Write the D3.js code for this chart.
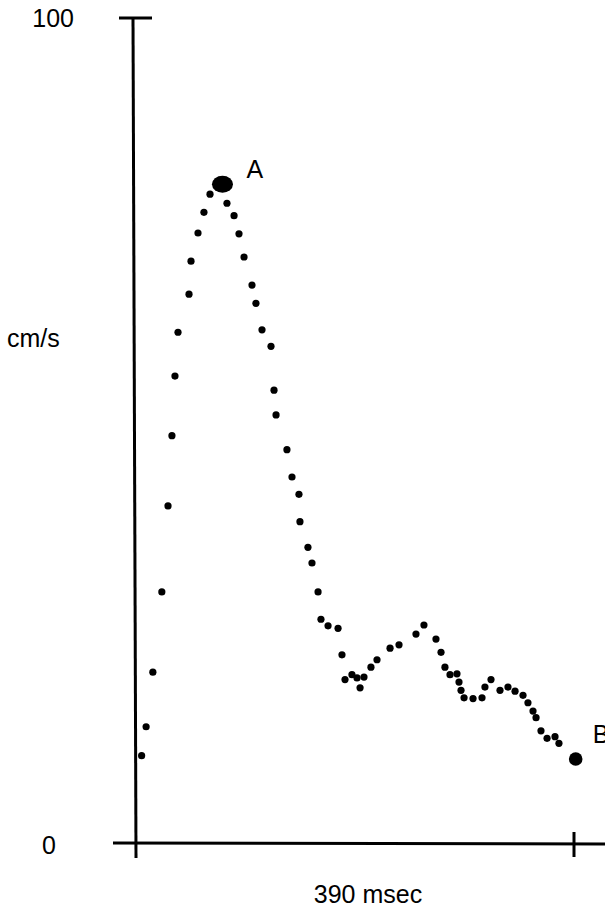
<!DOCTYPE html>
<html>
<head>
<meta charset="utf-8">
<script src="https://cdn.jsdelivr.net/npm/d3@7"></script>
<style>
  body { margin: 0; background: #fff; }
  text { font-family: "Liberation Sans", Arial, sans-serif; fill: #000; }
</style>
</head>
<body>
<div id="chart"></div>
<script>
// time (msec) and velocity (cm/s)
const times = [5, 9, 15, 23, 28.5, 32, 34.7, 37.4, 47.2, 49, 55.2, 60.5, 65.9, 77,
  81, 87.3, 91.7, 96.2, 103.3, 106.8, 112.2, 120.2, 122.9, 124.7, 134.4, 138.9, 145.1, 146,
  153.1, 156.7, 162.1, 164.7, 171, 179.9, 183.4, 186.1, 192.3, 196.8, 199.5, 203, 209.2, 214.6,
  226.2, 234.2, 249.3, 256.4, 267.1, 271.6, 275.1, 279.6, 285.8, 287.6, 289.4, 292.1, 300.1, 308.1,
  310.7, 316.1, 324.1, 331.2, 337.5, 344.6, 349, 353.5, 356.2, 360.6, 366, 373.1, 376.6, 391.5];
const speeds = [10.8, 14.3, 20.9, 30.6, 41, 49.5, 56.7, 62, 66.6, 70.6, 74, 76.5, 78.7, 79.9,
  77.6, 76.1, 73.9, 71.1, 67.7, 65.5, 62.3, 60.3, 55, 52, 47.8, 44.5, 42.4, 39.1,
  36, 34.1, 30.6, 27.3, 26.5, 26.2, 23, 20, 20.6, 20.2, 19, 20.3, 21.5, 22.4,
  23.8, 24.2, 25.5, 26.6, 24.9, 23.3, 21.5, 20.6, 20.7, 19.7, 18.7, 17.8, 17.7, 17.8,
  19.1, 20, 18.7, 19.1, 18.6, 18.1, 17.2, 16.2, 15.4, 13.8, 12.9, 13.1, 12.3, 10.4];
const marked = [{label: "A", i: 13}, {label: "B", i: 69}];
const yTicks = [0, 100];
const xEnd = 390;

const width = 605, height = 909;
const x = d3.scaleLinear([0, xEnd], [136, 574]);
const y = d3.scaleLinear([0, 100], [845, 18]);

const svg = d3.select("#chart").append("svg")
    .attr("width", width)
    .attr("height", height);

const axes = svg.append("g")
    .attr("stroke", "#000")
    .attr("stroke-width", 3)
    .attr("fill", "none");

// vertical axis, leaning a little like the drawn one
axes.append("line")
    .attr("x1", x(0) - 3).attr("x2", x(0))
    .attr("y1", y(100)).attr("y2", y(0) + 13);
// top tick
axes.append("line")
    .attr("x1", x(0) - 17).attr("x2", x(0) + 16)
    .attr("y1", y(100)).attr("y2", y(100));
// baseline
axes.append("line")
    .attr("x1", x(0) - 23).attr("x2", width)
    .attr("y1", y(0) - 2).attr("y2", y(0) - 1);
// end tick
axes.append("line")
    .attr("x1", x(xEnd)).attr("x2", x(xEnd))
    .attr("y1", y(0) - 13).attr("y2", y(0) + 12);

svg.append("g")
    .attr("font-size", 25)
    .attr("text-anchor", "end")
    .selectAll("text")
    .data(yTicks)
    .join("text")
    .attr("x", d => d === 0 ? 56 : 74)
    .attr("y", d => y(d))
    .attr("dy", "0.35em")
    .text(d => d);

svg.append("text")
    .attr("x", 7)
    .attr("y", 347)
    .attr("font-size", 25)
    .text("cm/s");

svg.append("text")
    .attr("x", 368)
    .attr("y", 903)
    .attr("text-anchor", "middle")
    .attr("font-size", 25)
    .text(`${xEnd} msec`);

const pts = times.map((t, i) => ({t, v: speeds[i], i}));

const dots = svg.append("g").attr("fill", "#000");

dots.selectAll("circle")
    .data(pts.filter(d => d.i !== 13))
    .join("circle")
    .attr("cx", d => x(d.t))
    .attr("cy", d => y(d.v))
    .attr("r", d => d.i === 69 ? 6.8 : 3.6);

// the peak is a heavier blot
dots.append("ellipse")
    .attr("cx", x(times[13]))
    .attr("cy", y(speeds[13]))
    .attr("rx", 10.5)
    .attr("ry", 8.5);

svg.append("g")
    .attr("font-size", 25)
    .selectAll("text")
    .data(marked)
    .join("text")
    .attr("x", d => x(times[d.i]) + (d.label === "A" ? 24 : 17))
    .attr("y", d => y(speeds[d.i]) - (d.label === "A" ? 6 : 16))
    .text(d => d.label);
</script>
</body>
</html>
